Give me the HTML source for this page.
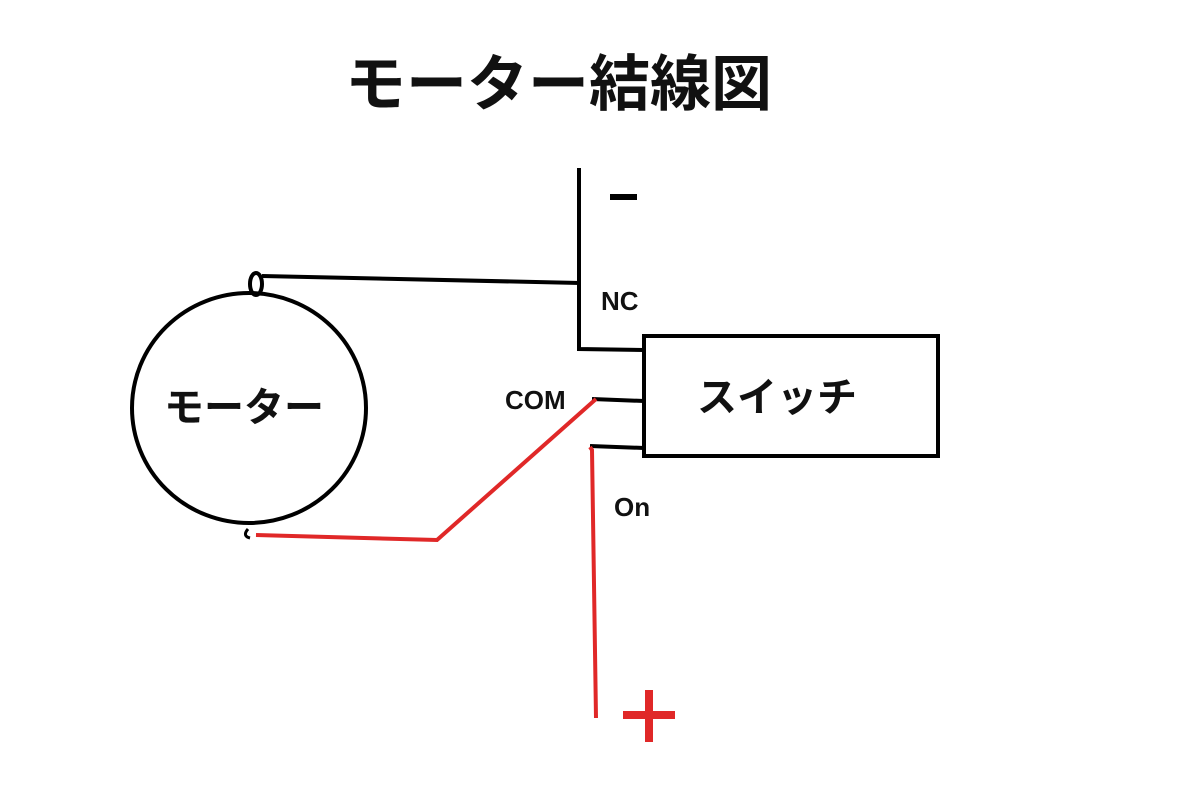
<!DOCTYPE html>
<html><head><meta charset="utf-8"><style>
html,body{margin:0;padding:0;background:#fff;width:1200px;height:800px;overflow:hidden}
svg{display:block}
text{font-family:"Liberation Sans","Noto Sans CJK JP",sans-serif;font-weight:bold;fill:#111}
</style></head><body>
<svg width="1200" height="800" viewBox="0 0 1200 800">
<text x="345" y="105" font-size="61">モーター結線図</text>
<!-- motor -->
<ellipse cx="249" cy="408" rx="117" ry="115" fill="none" stroke="#000" stroke-width="4"/>
<text x="164" y="421" font-size="40">モーター</text>
<ellipse cx="256" cy="284" rx="6" ry="11" fill="none" stroke="#000" stroke-width="4"/>
<path d="M248 529 Q242 536 250 538" fill="none" stroke="#000" stroke-width="3"/>
<!-- black wires -->
<polyline points="262,276 580,283" fill="none" stroke="#000" stroke-width="4"/>
<polyline points="579,168 579,349 644,350" fill="none" stroke="#000" stroke-width="4"/>
<line x1="592" y1="399" x2="644" y2="401" stroke="#000" stroke-width="4"/>
<line x1="590" y1="446" x2="644" y2="448" stroke="#000" stroke-width="4"/>
<rect x="644" y="336" width="294" height="120" fill="none" stroke="#000" stroke-width="4"/>
<text x="697" y="411" font-size="40">スイッチ</text>
<!-- labels -->
<rect x="610" y="194" width="27" height="6" fill="#000"/>
<text x="601" y="310" font-size="26">NC</text>
<text x="505" y="409" font-size="26">COM</text>
<text x="614" y="516" font-size="26">On</text>
<!-- red wires -->
<polyline points="256,535 437,540 596,399" fill="none" stroke="#e02828" stroke-width="4"/>
<polyline points="590,447 592,450 596,718" fill="none" stroke="#e02828" stroke-width="4"/>
<rect x="645" y="690" width="8" height="52" fill="#e02828"/>
<rect x="623" y="711" width="52" height="8" fill="#e02828"/>
</svg>
</body></html>
